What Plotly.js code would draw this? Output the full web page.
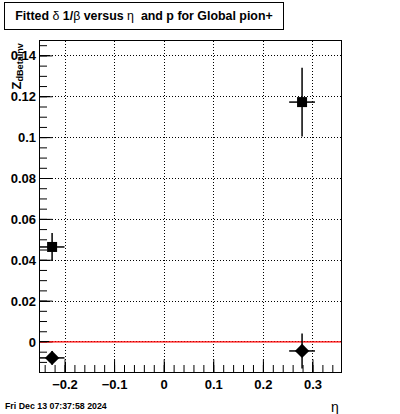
<!DOCTYPE html>
<html><head><meta charset="utf-8">
<script src="https://cdn.plot.ly/plotly-3.0.1.min.js"></script>
<style>html,body{margin:0;padding:0;background:#fff;}#plot{width:400px;height:414px;}</style>
</head><body><div id="plot"></div>
<script>
// Data
const sqEta = [-0.226, 0.278];
const sqZ = [0.0465, 0.1174];
const sqZErr = [0.0068, 0.0168];
const sqEtaErr = [0.025, 0.026];

const diEta = [-0.226, 0.278];
const diZ = [-0.0078, -0.0044];
const diZErr = [0.0034, 0.0086];
const diEtaErr = [0.025, 0.026];

const refLineX = [-0.2504, 0.3565];
const refLineY = [0, 0];

const xRange = [-0.2504, 0.3565];
const yRange = [-0.0147, 0.1473];
const xMajor = 0.1, xMinor = 0.02;
const yMajor = 0.02, yMinor = 0.005;

// tick positions derived from the axis ranges and steps
function tickVals(range, step) {
  const out = [];
  const start = Math.ceil(range[0] / step - 1e-9);
  const end = Math.floor(range[1] / step + 1e-9);
  for (let i = start; i <= end; i++) out.push(+(i * step).toFixed(6));
  return out;
}
const xMaj = tickVals(xRange, xMajor), xMin = tickVals(xRange, xMinor);
const yMaj = tickVals(yRange, yMajor), yMin = tickVals(yRange, yMinor);

const eb = (arr) => ({type:'data', array:arr, visible:true, color:'black', thickness:1.5, width:0});
const tickTrace = (xs, ys, sym, size) => ({
  x: xs, y: ys, mode:'markers', hoverinfo:'skip', cliponaxis:true,
  marker:{symbol:sym, size:size, color:'black', line:{color:'black', width:1}}
});

const traces = [
  tickTrace(xMaj, xMaj.map(() => yRange[0]), 'line-ns', 18),
  tickTrace(xMin, xMin.map(() => yRange[0]), 'line-ns', 10),
  tickTrace(yMaj.map(() => xRange[0]), yMaj, 'line-ew', 18),
  tickTrace(yMin.map(() => xRange[0]), yMin, 'line-ew', 10),
  {x: refLineX, y: refLineY, mode:'lines', line:{color:'red', width:1.2}, hoverinfo:'skip'},
  {x: sqEta, y: sqZ, mode:'markers', marker:{symbol:'square', size:10, color:'black'},
   error_y: eb(sqZErr), error_x: eb(sqEtaErr)},
  {x: diEta, y: diZ, mode:'markers', marker:{symbol:'diamond', size:11, color:'black'},
   error_y: eb(diZErr), error_x: eb(diEtaErr)}
];

const tickFont = {family:'Liberation Sans, Arial, sans-serif', size:13, color:'black'};

const layout = {
  width:400, height:414,
  margin:{l:40, r:59, t:41, b:42},
  showlegend:false,
  xaxis:{
    range:xRange, dtick:xMajor,
    ticks:'inside', ticklen:9, tickcolor:'#000', tickwidth:1,
    showgrid:true, gridcolor:'#000', griddash:'1px,2px', gridwidth:1,
    zeroline:false, showline:true, linecolor:'#000', linewidth:1.3, mirror:true,
    tickfont:tickFont, tickprefix:'<b>', ticksuffix:'</b>'
  },
  yaxis:{
    range:yRange, dtick:yMajor,
    ticks:'inside', ticklen:9, tickcolor:'#000', tickwidth:1,
    showgrid:true, gridcolor:'#000', griddash:'1px,2px', gridwidth:1,
    zeroline:false, showline:true, linecolor:'#000', linewidth:1.3, mirror:true,
    tickfont:tickFont, tickprefix:'<b>', ticksuffix:'</b>'
  },
  annotations:[
    {xref:'paper', yref:'paper', x:(4-40)/301, y:(372-2)/331, xanchor:'left', yanchor:'top',
     width:278, height:26, align:'center', showarrow:false,
     bordercolor:'black', borderwidth:1, bgcolor:'white', borderpad:0,
     text:'<b>Fitted </b>δ<b> 1/</b>β<b> versus </b>η<b>  and p for Global pion+</b>',
     font:{family:'Liberation Sans, Arial, sans-serif', size:12.4, color:'black'}},
    {xref:'paper', yref:'paper', x:(17-40)/301, y:1, xanchor:'center', yanchor:'top',
     textangle:-90, showarrow:false,
     text:'<b>Z<sub>dBetaInv</sub></b>',
     font:{family:'Liberation Sans, Arial, sans-serif', size:13, color:'black'}},
    {xref:'paper', yref:'paper', x:(335-40)/301, y:(372-407)/331, xanchor:'center', yanchor:'middle',
     showarrow:false, text:'η',
     font:{family:'Liberation Sans, Arial, sans-serif', size:14, color:'black'}},
    {xref:'paper', yref:'paper', x:(3-40)/301, y:(372-406)/331, xanchor:'left', yanchor:'middle',
     showarrow:false, text:'<b>Fri Dec 13 07:37:58 2024</b>',
     font:{family:'Liberation Sans, Arial, sans-serif', size:8.8, color:'black'}}
  ]
};

Plotly.newPlot('plot', traces, layout, {staticPlot:true, displayModeBar:false});
</script></body></html>
